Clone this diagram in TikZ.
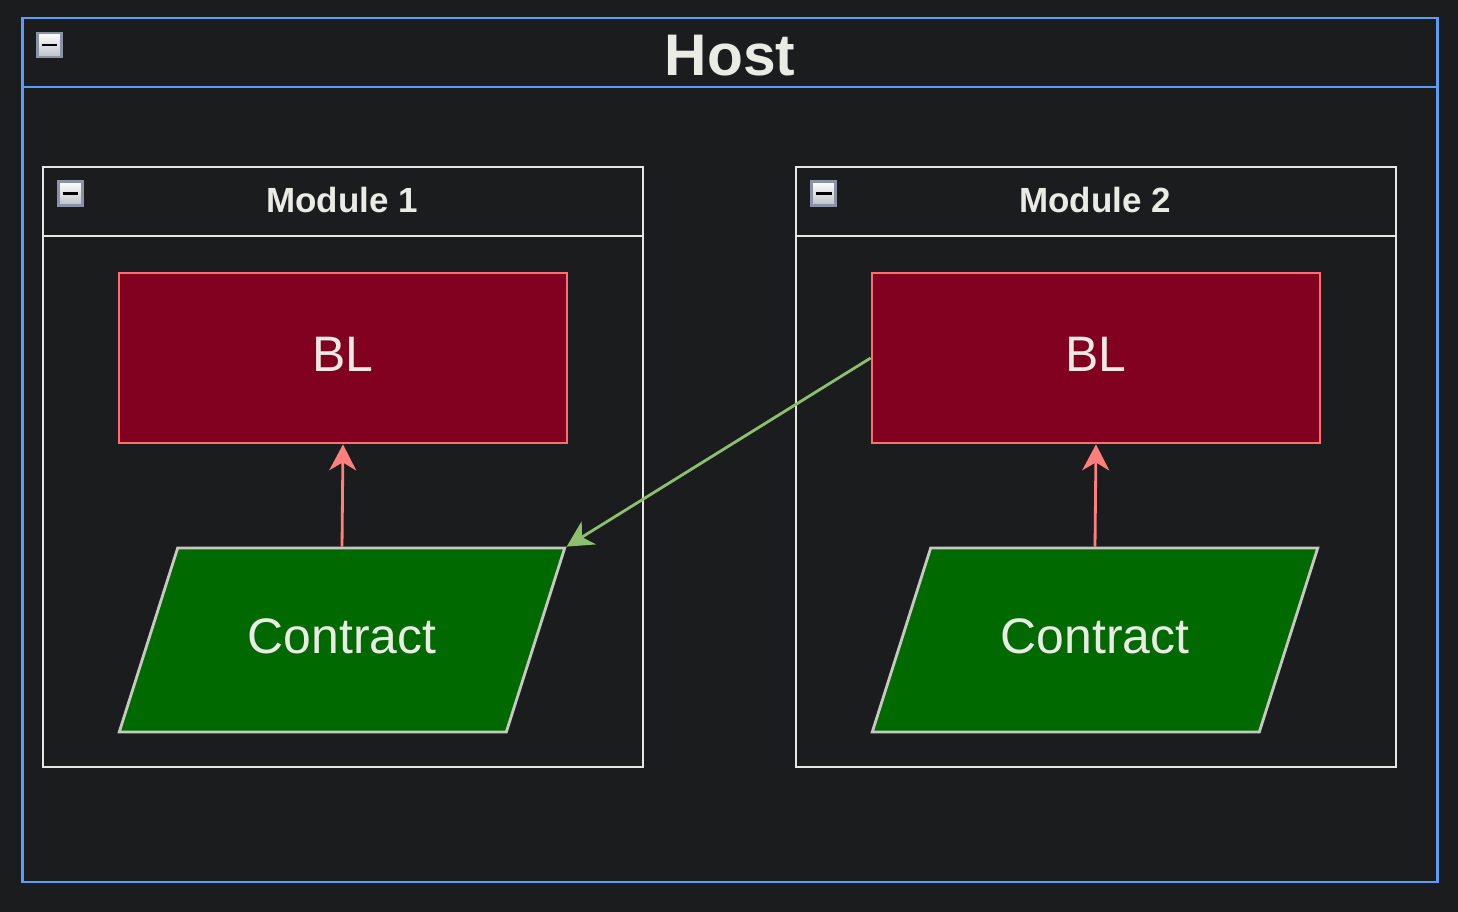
\documentclass[tikz,border=0pt]{standalone}
\usepackage{fontspec}
\setmainfont{Liberation Sans}
\usetikzlibrary{shapes.geometric,arrows.meta}
\definecolor{pagedark}{HTML}{1B1C1E}
\definecolor{hostblue}{HTML}{5B9CF6}
\definecolor{modrim}{HTML}{E6E6E3}
\definecolor{blfill}{HTML}{820020}
\definecolor{blrim}{HTML}{FF6E6E}
\definecolor{ctfill}{HTML}{006A00}
\definecolor{ctrim}{HTML}{C8C8C2}
\definecolor{txtlight}{HTML}{EBEBE6}
\definecolor{linkgreen}{HTML}{8CBF6E}
\definecolor{linkred}{HTML}{FF7F7F}
\definecolor{iconrim}{HTML}{8A93A5}
\definecolor{iconlow}{HTML}{BFC1C6}

\begin{document}
\begin{tikzpicture}[
					x=0.02cm, y=-0.02cm,
					container/.style={rectangle,draw,line width=1.6pt,inner sep=0pt},
					collapser/.style={rectangle,draw=iconrim,line width=1.6pt,top color=white,bottom color=iconlow,minimum size=0.48cm,inner sep=0pt},
					heading/.style={anchor=base,text=txtlight,font=\bfseries},
					blbox/.style={rectangle,draw=blrim,fill=blfill,line width=1.6pt,minimum width=8.96cm,minimum height=3.4cm,text=txtlight,font=\fontsize{28.4}{34}\selectfont,text height=0.74cm,text depth=0.2cm},
					contractbox/.style={trapezium,trapezium left angle=54.5,trapezium right angle=125.5,trapezium stretches=true,draw=ctrim,fill=ctfill,line width=1.6pt,minimum width=8.92cm,minimum height=3.68cm,inner sep=0pt,text=txtlight,font=\fontsize{28.4}{34}\selectfont,text height=0.74cm,text depth=0.2cm},
					link/.style={-{Stealth[length=0.52cm,width=0.54cm,inset=0.16cm]},line width=1.6pt},
					]
					\fill[pagedark] (0,0) rectangle (1458,912);
					\useasboundingbox (0,0) rectangle (1458,912);
					% host and its header
					\node [container,draw=hostblue,minimum width=28.32cm,minimum height=17.28cm] (host) at (730,450) {};
					\draw[hostblue,line width=1.6pt] (22,87) -- (1438,87);
					\node [heading,font=\bfseries\fontsize{33.4}{40}\selectfont] (hosttitle) at (730,76) {Host};
					\node [collapser] (hostfold) at (49.5,45) {};
					\draw[line width=1.7pt] ([xshift=-0.16cm]hostfold.center) -- ([xshift=0.16cm]hostfold.center);
					% modules
					\node [container,draw=modrim,minimum width=12cm,minimum height=12cm] (mod1) at (343,467) {};
					\node [container,draw=modrim,minimum width=12cm,minimum height=12cm] (mod2) at (1096,467) {};
					\draw[modrim,line width=1.6pt] (43,236) -- (643,236);
					\draw[modrim,line width=1.6pt] (796,236) -- (1396,236);
					\node [heading,font=\bfseries\fontsize{19.9}{24}\selectfont] (mod1title) at (342,213) {Module 1};
					\node [heading,font=\bfseries\fontsize{19.9}{24}\selectfont] (mod2title) at (1095,213) {Module 2};
					\node [collapser] (mod1fold) at (70.5,193.5) {};
					\node [collapser] (mod2fold) at (823.5,193.5) {};
					\draw[line width=1.7pt] ([xshift=-0.16cm]mod1fold.center) -- ([xshift=0.16cm]mod1fold.center);
					\draw[line width=1.7pt] ([xshift=-0.16cm]mod2fold.center) -- ([xshift=0.16cm]mod2fold.center);
					% inner boxes
					\node [blbox] (bl1) at (343,358) {BL};
					\node [blbox] (bl2) at (1096,358) {BL};
					\node [contractbox] (ct1) at (342,640) {Contract};
					\node [contractbox] (ct2) at (1095,640) {Contract};
					\draw[link,linkred] (ct1.north) -- (bl1.south);
					\draw[link,linkred] (ct2.north) -- (bl2.south);
					\draw[link,linkgreen] (bl2.west) -- (ct1.top right corner);
				\end{tikzpicture}
\end{document}
